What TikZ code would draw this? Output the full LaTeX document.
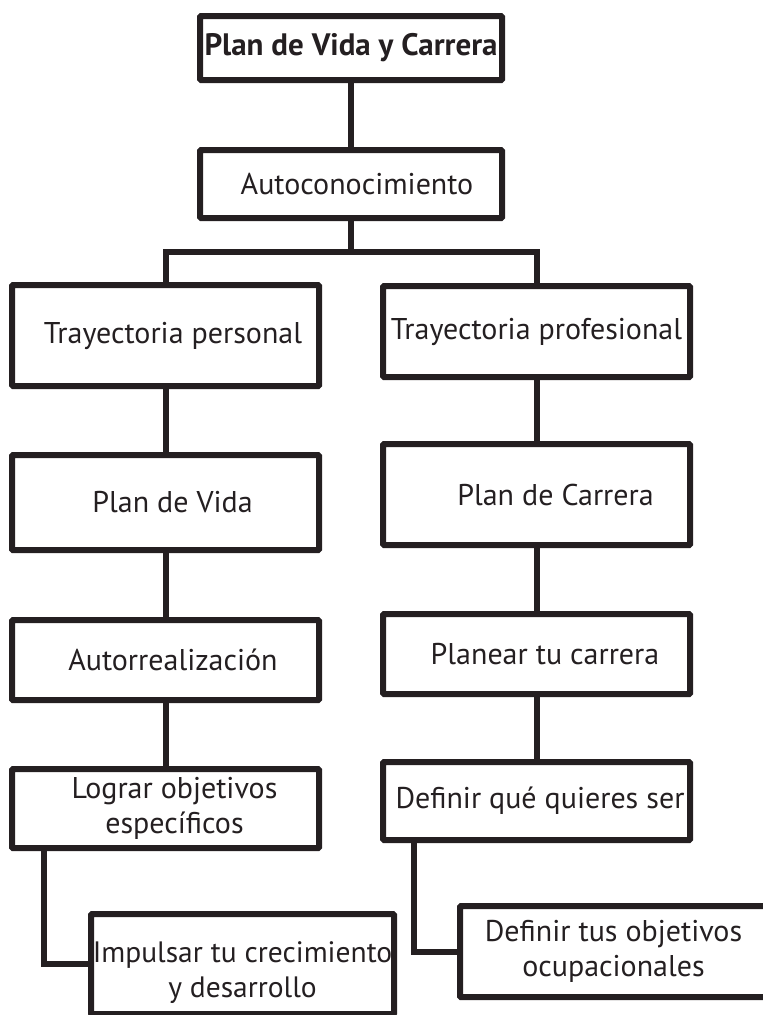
\documentclass[tikz,border=0pt]{standalone}
\usepackage{fontspec}
\setmainfont{PT Sans}
\usetikzlibrary{calc}
\definecolor{LineClr}{rgb}{0.14,0.12,0.13}
\newcommand{\Baja}[1]{\raisebox{-9pt}[\height][\depth]{#1}}

\begin{document}
\begin{tikzpicture}[x=1pt,y=-1pt,
  caja/.style 2 args={draw=LineClr,line width=6pt,rounded corners=1pt,
    minimum width=#1,minimum height=#2,inner sep=0pt,outer sep=0pt,
    text=LineClr,font=\fontsize{30}{35}\selectfont,align=center},
  corr/.style={execute at begin node={\hspace*{#1}}},
  enlace/.style={draw=LineClr,line width=6pt}]
\useasboundingbox (0,0) rectangle (763,1015);
\clip (0,0) rectangle (763,1015);

\node[caja={302pt}{64pt},font=\fontsize{31}{36}\bfseries] (PVC) at (351,48) {Plan de Vida y Carrera};
\node[caja={302pt}{68pt},corr=12pt] (Auto) at (351,184) {Autoconocimiento};
\coordinate (J) at (351,252);

% rama personal
\node[caja={307pt}{101pt},corr=15pt] (TP) at (165.5,335.5) {Trayectoria personal};
\node[caja={307pt}{95pt},corr=14pt] (PV) at (165.5,502.5) {Plan de Vida};
\node[caja={307pt}{80pt},corr=15pt] (AR) at (165.5,660) {Autorrealización};
\node[caja={307pt}{79pt}] (LO) at (165.5,808.5) {\hspace*{18pt}Lograr objetivos\\ \hspace*{18pt}específicos};
\node[caja={303pt}{100pt},font=\fontsize{29.5}{35}\selectfont] (IM) at (242.5,964) {\Baja{Impulsar tu crecimiento}\\ \Baja{y desarrollo}};

% rama profesional
\node[caja={307pt}{91pt}] (TF) at (536.5,331.5) {Trayectoria profesional};
\node[caja={307pt}{101pt},corr=38pt] (PC) at (536.5,494.5) {Plan de Carrera};
\node[caja={307pt}{80pt},corr=17pt] (PT) at (536.5,654) {Planear tu carrera};
\node[caja={307pt}{78pt},corr=7pt] (DQ) at (536.5,801) {Definir qué quieres ser};
\node[caja={307pt}{91pt}] (DO) at (613.5,951.5) {Definir tus objetivos\\ ocupacionales};

\draw[enlace] (PVC) -- (Auto);
\draw[enlace] (Auto) -- (J);
\draw[enlace] (TP.north) |- (J) -| (TF.north);
\draw[enlace] (TP) -- (PV);
\draw[enlace] (PV) -- (AR);
\draw[enlace] (AR) -- (LO);
\draw[enlace] (TF) -- (PC);
\draw[enlace] (PC) -- (PT);
\draw[enlace] (PT) -- (DQ);
\draw[enlace] ([xshift=31.5pt]LO.south west) |- (IM.west);
\draw[enlace] ([xshift=31pt]DQ.south west) |- (DO.west);
\end{tikzpicture}
\end{document}
